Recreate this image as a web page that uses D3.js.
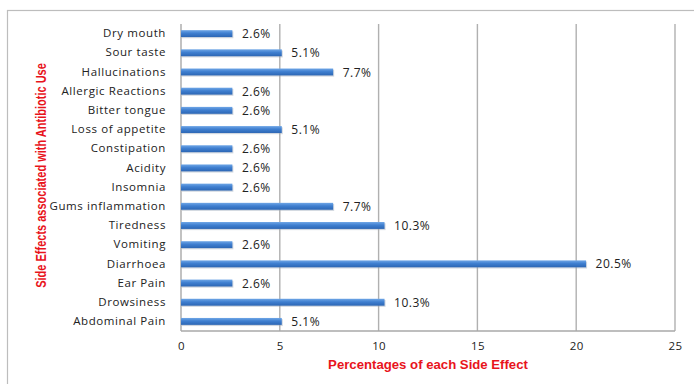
<!DOCTYPE html>
<html>
<head>
<meta charset="utf-8">
<script src="https://cdn.jsdelivr.net/npm/d3@7"></script>
<style>
  html, body { margin: 0; padding: 0; background: #fff; }
  svg { display: block; }
  text { font-family: "Open Sans", "Liberation Sans", sans-serif; fill: #222; }
</style>
</head>
<body>
<svg id="chart" width="694" height="384"></svg>
<script>
// Side effects reported with antibiotic use (percent of respondents)
const categories = [
  "Dry mouth", "Sour taste", "Hallucinations", "Allergic Reactions", "Bitter tongue",
  "Loss of appetite", "Constipation", "Acidity", "Insomnia", "Gums inflammation",
  "Tiredness", "Vomiting", "Diarrhoea", "Ear Pain", "Drowsiness", "Abdominal Pain"
];
const percentages = [2.6, 5.1, 7.7, 2.6, 2.6, 5.1, 2.6, 2.6, 2.6, 7.7, 10.3, 2.6, 20.5, 2.6, 10.3, 5.1];
const xTicks = [0, 5, 10, 15, 20, 25];
const xTitle = "Percentages of each Side Effect";
const yTitle = "Side Effects associated with Antibiotic Use";

const svg = d3.select("#chart");
const W = 694, H = 384;
const plot = { left: 181, right: 675, top: 24, bottom: 331 };

// outer frame
svg.append("rect")
  .attr("x", 7.5).attr("y", 10.5)
  .attr("width", W).attr("height", H)
  .attr("fill", "none").attr("stroke", "#bdbdbd").attr("stroke-width", 1.2);

const x = d3.scaleLinear().domain([0, 25]).range([plot.left, plot.right]);
const y = d3.scaleBand().domain(categories).range([plot.top, plot.bottom]).paddingInner(0.64).paddingOuter(0.32);

// bar gradient
const defs = svg.append("defs");
const grad = defs.append("linearGradient").attr("id", "barGrad")
  .attr("x1", 0).attr("y1", 0).attr("x2", 0).attr("y2", 1);
grad.append("stop").attr("offset", "0%").attr("stop-color", "#6fa6e6");
grad.append("stop").attr("offset", "45%").attr("stop-color", "#3f7fd0");
grad.append("stop").attr("offset", "100%").attr("stop-color", "#2c66b4");

// vertical gridlines
svg.append("g")
  .selectAll("line")
  .data(xTicks.slice(1))
  .join("line")
  .attr("x1", d => x(d)).attr("x2", d => x(d))
  .attr("y1", plot.top).attr("y2", plot.bottom)
  .attr("stroke", "#b0b0b0").attr("stroke-width", 1.4);

// axes lines
svg.append("line")
  .attr("x1", x(0)).attr("x2", x(0)).attr("y1", plot.top).attr("y2", plot.bottom)
  .attr("stroke", "#a8a8a8").attr("stroke-width", 1.4);
svg.append("line")
  .attr("x1", x(0)).attr("x2", x(25)).attr("y1", plot.bottom).attr("y2", plot.bottom)
  .attr("stroke", "#a8a8a8").attr("stroke-width", 1.4);

// x tick labels
const xAxis = d3.axisBottom(x).tickValues(xTicks).tickSize(0).tickPadding(11).tickFormat(d3.format("d"));
const gx = svg.append("g").attr("transform", `translate(0,${plot.bottom})`).call(xAxis);
gx.select(".domain").remove();
gx.selectAll("text").style("font-size", "11.5px").style("font-family", '"Open Sans", sans-serif')
  .style("letter-spacing", "0.4px").attr("fill", "#222");

// y category labels
const yAxis = d3.axisLeft(y).tickSize(0).tickPadding(15);
const gy = svg.append("g").attr("transform", `translate(${plot.left},0)`).call(yAxis);
gy.select(".domain").remove();
gy.selectAll("text").style("font-size", "11.5px").style("font-family", '"Open Sans", sans-serif')
  .style("letter-spacing", "0.6px").attr("fill", "#222");

// bars with a slight drop shadow
const bars = svg.append("g");
bars.selectAll("rect.shadow")
  .data(percentages)
  .join("rect")
  .attr("class", "shadow")
  .attr("x", x(0) + 1)
  .attr("y", (d, i) => y(categories[i]) + 1.2)
  .attr("width", d => x(d) - x(0))
  .attr("height", y.bandwidth())
  .attr("fill", "#9aa7b8").attr("opacity", 0.45);
bars.selectAll("rect.bar")
  .data(percentages)
  .join("rect")
  .attr("class", "bar")
  .attr("x", x(0))
  .attr("y", (d, i) => y(categories[i]))
  .attr("width", d => x(d) - x(0))
  .attr("height", y.bandwidth())
  .attr("fill", "url(#barGrad)");

// value labels
svg.append("g")
  .selectAll("text")
  .data(percentages)
  .join("text")
  .attr("x", d => x(d) + 9.5)
  .attr("y", (d, i) => y(categories[i]) + y.bandwidth() / 2)
  .attr("dy", "0.38em")
  .style("font-size", "12px")
  .style("letter-spacing", "0.5px")
  .text(d => d.toFixed(1) + "%");

// axis titles, horizontally condensed to a target length
function condensedTitle(str, cx, cy, angle, targetLen, size) {
  const g = svg.append("g").attr("transform", `translate(${cx},${cy}) rotate(${angle})`);
  const t = g.append("text")
    .attr("text-anchor", "middle")
    .style("font-family", '"Liberation Sans", Arial, sans-serif')
    .style("font-size", size + "px").style("font-weight", "bold")
    .style("fill", "#e8141c")
    .text(str);
  const natural = t.node().getComputedTextLength();
  t.attr("transform", `scale(${targetLen / natural},1)`);
}
condensedTitle(xTitle, 428, 369, 0, 200, 13.5);
condensedTitle(yTitle, 46, 175.5, -90, 225, 14.5);
</script>
</body>
</html>
